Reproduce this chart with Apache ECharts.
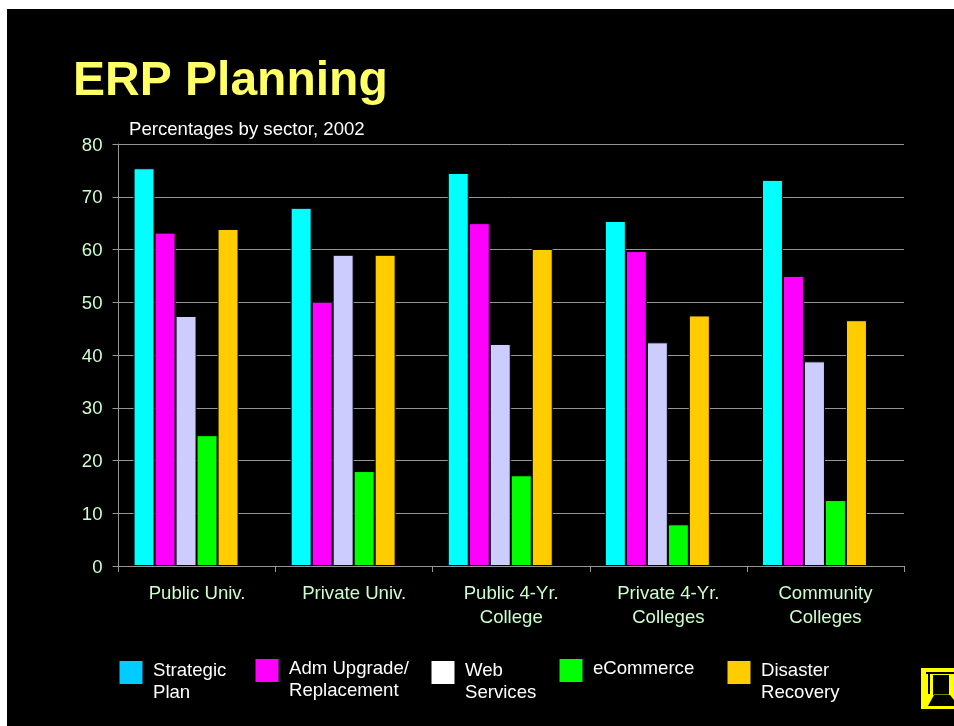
<!DOCTYPE html>
<html>
<head>
<meta charset="utf-8">
<title>ERP Planning</title>
<script src="https://cdn.jsdelivr.net/npm/echarts@6/dist/echarts.min.js"></script>
<style>
	html, body { margin: 0; padding: 0; background: #fff; overflow: hidden; }
	#slide { position: absolute; left: 7px; top: 9px; width: 947px; height: 717px; background: #000; }
	#chart { position: absolute; left: 0; top: 0; width: 954px; height: 726px; }
</style>
</head>
<body>
<div id="slide"></div>
<div id="chart"></div>
<script>
var categories = ['Public Univ.', 'Private Univ.', 'Public 4-Yr.\nCollege', 'Private 4-Yr.\nColleges', 'Community\nColleges'];
var seriesNames = ['Strategic Plan', 'Adm Upgrade/ Replacement', 'Web Services', 'eCommerce', 'Disaster Recovery'];
var legendLabels = ['Strategic\nPlan', 'Adm Upgrade/\nReplacement', 'Web\nServices', 'eCommerce', 'Disaster\nRecovery'];
var strategicPlan = [75.4, 67.9, 74.5, 65.4, 73.2];
var admUpgrade = [63.2, 50.1, 65, 59.7, 55];
var webServices = [47.4, 59, 42.1, 42.4, 38.8];
var eCommerce = [24.8, 18, 17.2, 7.9, 12.5];
var disasterRecovery = [63.9, 59, 60.1, 47.5, 46.6];
var allValues = [strategicPlan, admUpgrade, webServices, eCommerce, disasterRecovery];
// the original has an empty sixth slot in each group, so the bars sit left of the labels
var emptySlot = [null, null, null, null, null];

// the slide's legend swatches do not use the same colours as the bars
var barColors = ['#00ffff', '#ff00ff', '#ccccff', '#00ff00', '#ffcc00'];
var swatchColors = ['#00ccff', '#ff00ff', '#ffffff', '#00ff00', '#ffcc00'];

var FONT = '"Liberation Sans", Arial, sans-serif';
var GRID_COLOR = '#969696';
var LABEL_COLOR = '#ccffcc';

// legend swatch placement, one entry per series
var legendLeft = [119.5, 255.5, 431.5, 559.5, 727.5];
var legendTop = [661, 659, 661, 659, 661];

var series = [];
var graphics = [];
for (var i = 0; i < seriesNames.length; i++) {
	series.push({
		name: seriesNames[i],
		type: 'bar',
		data: allValues[i],
		barWidth: 21,
		barGap: 0,
		itemStyle: { color: barColors[i], borderColor: '#000', borderWidth: 1 }
	});
	graphics.push({
		type: 'rect',
		shape: { x: legendLeft[i], y: legendTop[i], width: 23, height: 23 },
		style: { fill: swatchColors[i] }
	});
	graphics.push({
		type: 'text',
		x: legendLeft[i] + 33.5,
		y: legendTop[i] - 1,
		style: {
			text: legendLabels[i],
			fill: '#fff',
			font: '18.6px ' + FONT,
			lineHeight: 22,
			verticalAlign: 'top'
		}
	});
}
series.push({ name: 'empty', type: 'bar', data: emptySlot, barWidth: 22, barGap: 0 });

// small logo in the corner of the slide
var logoParts = [
	{ type: 'rect', shape: { x: 921, y: 668, width: 33, height: 41 }, style: { fill: '#ffff00' } },
	{ type: 'rect', shape: { x: 926, y: 672, width: 28, height: 2 }, style: { fill: '#000' } },
	{ type: 'rect', shape: { x: 928, y: 674, width: 2, height: 20 }, style: { fill: '#000' } },
	{ type: 'rect', shape: { x: 933, y: 675, width: 16, height: 20 }, style: { fill: '#000' } },
	{ type: 'rect', shape: { x: 934, y: 694, width: 15, height: 1 }, style: { fill: '#808000' } },
	{ type: 'polygon', shape: { points: [[934, 695], [950, 695], [954, 700], [954, 706], [928, 706]] }, style: { fill: '#000' } }
];
graphics = graphics.concat(logoParts);

var myChart = echarts.init(document.getElementById('chart'));
myChart.setOption({
	backgroundColor: 'transparent',
	animation: false,
	title: [
		{
			text: 'ERP Planning',
			left: 73,
			top: 58,
			padding: 0,
			textStyle: { color: '#ffff66', fontFamily: FONT, fontSize: 48, fontWeight: 'bold' }
		},
		{
			text: 'Percentages by sector, 2002',
			left: 129,
			top: 120,
			padding: 0,
			textStyle: { color: '#fff', fontFamily: FONT, fontSize: 18.6, fontWeight: 'normal' }
		}
	],
	grid: { left: 118.5, right: 50, top: 144, bottom: 160, containLabel: false },
	xAxis: {
		type: 'category',
		data: categories,
		axisLine: { lineStyle: { color: GRID_COLOR, width: 1 } },
		axisTick: { show: true, length: 6, alignWithLabel: false, lineStyle: { color: GRID_COLOR } },
		axisLabel: { color: LABEL_COLOR, fontFamily: FONT, fontSize: 18.6, lineHeight: 24, margin: 16, interval: 0 }
	},
	yAxis: {
		type: 'value',
		min: 0,
		max: 80,
		interval: 10,
		axisLine: { show: true, lineStyle: { color: GRID_COLOR, width: 1 } },
		axisTick: { show: true, length: 6, lineStyle: { color: GRID_COLOR } },
		axisLabel: {
			color: LABEL_COLOR,
			fontFamily: FONT,
			fontSize: 18.6,
			margin: 16,
			lineHeight: 22,
			verticalAlign: 'top',
			padding: [-9.5, 0, 0, 0]
		},
		splitLine: { show: true, lineStyle: { color: GRID_COLOR, width: 1 } }
	},
	series: series,
	graphic: graphics
});
</script>
</body>
</html>
